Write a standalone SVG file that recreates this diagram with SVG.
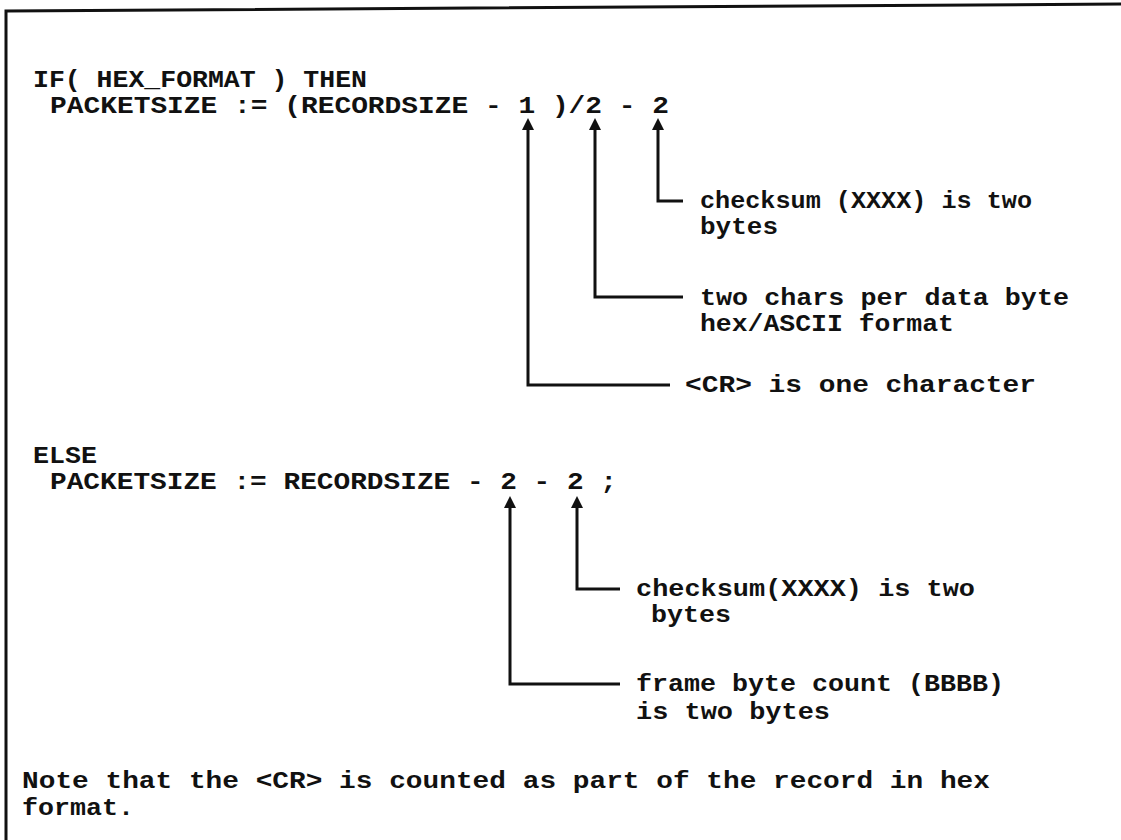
<svg xmlns="http://www.w3.org/2000/svg" width="1121" height="840" viewBox="0 0 1121 840">
<style>
text{font-family:"Liberation Mono","DejaVu Sans Mono",monospace;font-weight:bold;font-size:23px;fill:#111}
.c{fill:none;stroke:#111;stroke-width:3}
</style>
<defs>
<marker id="ah" markerWidth="14" markerHeight="12" refX="1" refY="6" orient="auto-start-reverse" markerUnits="userSpaceOnUse">
<path d="M0,0 L12,6 L0,12 Z" fill="#111"/>
</marker>
</defs>
<rect width="1121" height="840" fill="#fff"/>
<g id="frame">
<path d="M6,840 L6,11 L1121,4" fill="none" stroke="#111" stroke-width="3"/>
</g>
<g id="code-if">
<text x="33" y="87" textLength="334" lengthAdjust="spacingAndGlyphs">IF( HEX_FORMAT ) THEN</text>
<text x="50" y="113" textLength="619" lengthAdjust="spacingAndGlyphs">PACKETSIZE := (RECORDSIZE - 1 )/2 - 2</text>
</g>
<g id="note-checksum1">
<text x="700" y="208" textLength="332" lengthAdjust="spacingAndGlyphs">checksum (XXXX) is two</text>
<text x="700" y="234" textLength="78" lengthAdjust="spacingAndGlyphs">bytes</text>
</g>
<g id="note-twochars">
<text x="700" y="305" textLength="369" lengthAdjust="spacingAndGlyphs">two chars per data byte</text>
<text x="700" y="331" textLength="254" lengthAdjust="spacingAndGlyphs">hex/ASCII format</text>
</g>
<g id="note-cr">
<text x="685" y="392" textLength="351" lengthAdjust="spacingAndGlyphs">&lt;CR&gt; is one character</text>
</g>
<g id="code-else">
<text x="33" y="463" textLength="64" lengthAdjust="spacingAndGlyphs">ELSE</text>
<text x="50" y="489" textLength="567" lengthAdjust="spacingAndGlyphs">PACKETSIZE := RECORDSIZE - 2 - 2 ;</text>
</g>
<g id="note-checksum2">
<text x="636" y="596" textLength="339" lengthAdjust="spacingAndGlyphs">checksum(XXXX) is two</text>
<text x="651" y="622" textLength="80" lengthAdjust="spacingAndGlyphs">bytes</text>
</g>
<g id="note-frame">
<text x="636" y="691" textLength="368" lengthAdjust="spacingAndGlyphs">frame byte count (BBBB)</text>
<text x="636" y="719" textLength="194" lengthAdjust="spacingAndGlyphs">is two bytes</text>
</g>
<g id="note-bottom">
<text x="22" y="788" textLength="968" lengthAdjust="spacingAndGlyphs">Note that the &lt;CR&gt; is counted as part of the record in hex</text>
<text x="22" y="815" textLength="112" lengthAdjust="spacingAndGlyphs">format.</text>
</g>
<g id="connectors">
<path class="c" marker-start="url(#ah)" d="M528,129 V385 H670"/>
<path class="c" marker-start="url(#ah)" d="M595,129 V297 H683"/>
<path class="c" marker-start="url(#ah)" d="M658,129 V201 H683"/>
<path class="c" marker-start="url(#ah)" d="M510,507 V684 H620"/>
<path class="c" marker-start="url(#ah)" d="M577,507 V589 H620"/>
</g>
</svg>
